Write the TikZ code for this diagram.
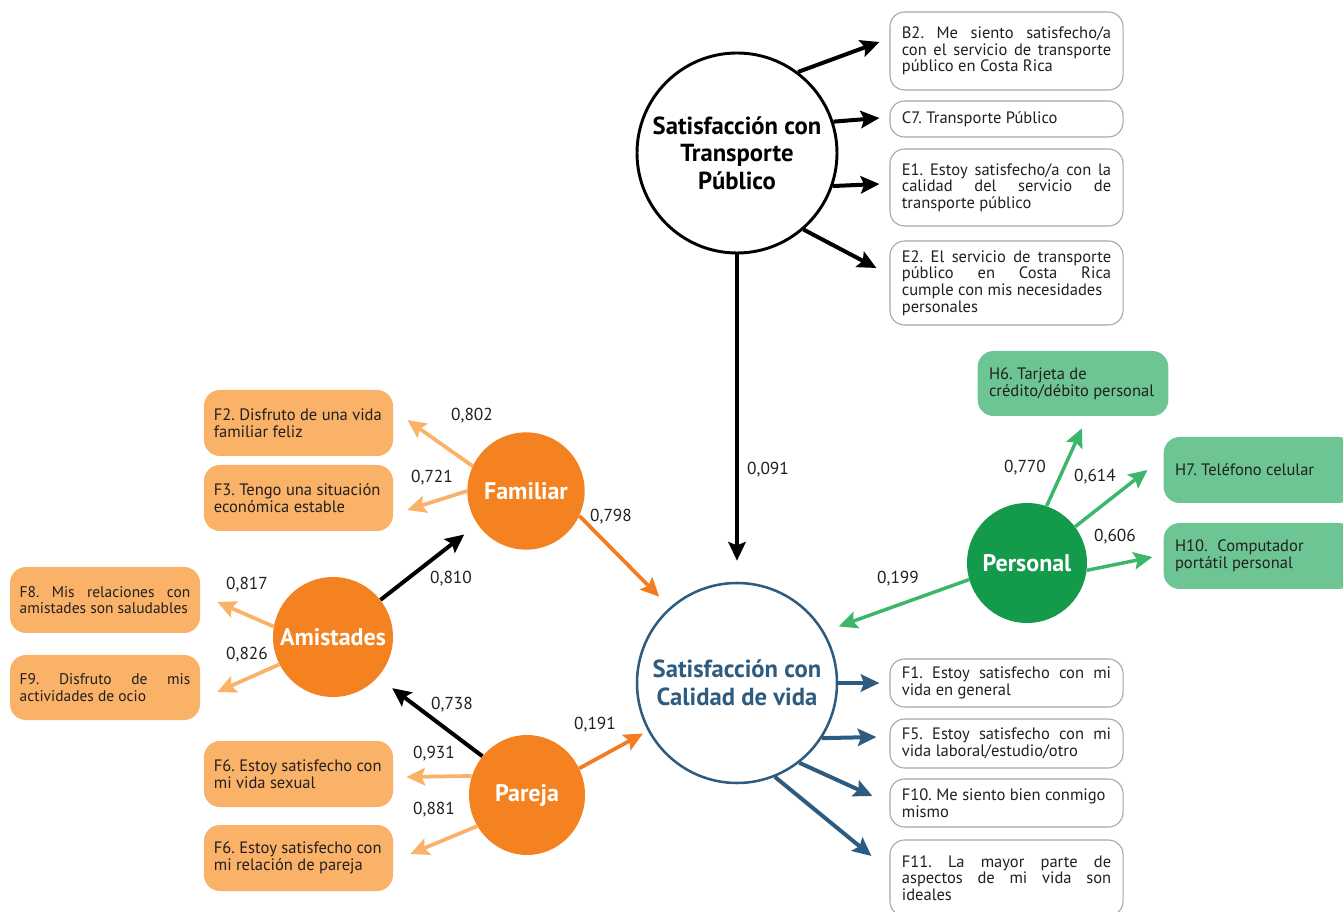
\documentclass[tikz,border=0pt]{standalone}
\usepackage{fontspec}
\setmainfont{PT Sans}
\usetikzlibrary{arrows.meta,calc,shapes.geometric}
\definecolor{orc}{HTML}{F58220}
\definecolor{orarr}{HTML}{F47B20}
\definecolor{orl}{HTML}{FAB168}
\definecolor{bluec}{HTML}{2D5C80}
\definecolor{greenc}{HTML}{139A4B}
\definecolor{greenarr}{HTML}{3BB66B}
\definecolor{greenbox}{HTML}{6CC592}
\definecolor{boxgray}{HTML}{A6A6A6}
\definecolor{txt}{HTML}{231F20}
\newcommand{\boxfont}[1]{\fontsize{#1}{12.5}\selectfont\frenchspacing\hyphenpenalty=10000\relax\tolerance=9999\relax}
\begin{document}
\begin{tikzpicture}[x=0.75pt,y=-0.75pt,
  tipA/.tip={Stealth[length=14pt,width=13pt,inset=2.5pt]},
  barr/.style={draw=black,line width=3pt,-tipA},
  bluearr/.style={draw=bluec,line width=3pt,-tipA},
  garr/.style={draw=greenarr,line width=2.6pt,-tipA},
  larr/.style={draw=orl,line width=2.8pt,-tipA},
  oarr/.style={draw=orarr,line width=2.8pt,-tipA},
  boxtxt/.style={align=justify,text=txt,inner ysep=0pt,font=\boxfont{12.4}},
  gbox/.style={boxtxt,draw=boxgray,line width=0.8pt,rounded corners=11pt,fill=white,
    text width=157pt,inner xsep=8.9pt},
  obox/.style={boxtxt,fill=orl,rounded corners=12pt,text width=127pt,inner xsep=7.4pt},
  hbox/.style={boxtxt,fill=greenbox,rounded corners=12pt,text width=126pt,inner xsep=8.5pt},
  bigc/.style={circle,minimum size=150pt,inner sep=0pt,line width=2.2pt,fill=white,align=center,
    font=\fontsize{18.5}{20.6}\selectfont\bfseries},
  smc/.style={circle,minimum size=88pt,inner sep=0pt,text=white,align=center,
    font=\fontsize{18}{20}\selectfont\bfseries},
  lab/.style={text=txt,inner sep=1pt,font=\fontsize{13}{15}\selectfont}
]
\useasboundingbox (0,0) rectangle (1343,912);

% main circles
\node[bigc,draw=black,text=black] (tp) at (737,153) {Satisfacción con\\Transporte\\Público};
\node[bigc,draw=bluec,text=bluec,line width=1.9pt] (cq) at (737,683) {Satisfacción con\\Calidad de vida};

% small circles
\node[smc,fill=orc] (fam) at (526,491) {Familiar};
\node[smc,fill=orc,minimum size=90pt] (am) at (333,637) {Amistades};
\node[smc,fill=orc,ellipse,minimum width=87pt,minimum height=90pt] (pa) at (527,795) {Pareja};
\node[smc,fill=greenc,minimum size=90pt] (pe) at (1027,563) {Personal};

% gray boxes
\node[gbox,minimum height=58.5pt] (b2) at (1006.5,51) {B2. Me siento satisfecho/a\linebreak con el servicio de transporte\linebreak público en Costa Rica};
\node[gbox,minimum height=27pt] (c7) at (1006.5,119) {C7. Transporte Público};
\node[gbox,minimum height=57.75pt] (e1) at (1006.5,187.5) {E1. Estoy satisfecho/a con la\linebreak calidad del servicio de\linebreak transporte público};
\node[gbox,minimum height=63pt] (e2) at (1006.5,283) {E2. El servicio de transporte\linebreak público en Costa Rica\linebreak cumple con mis necesidades\\personales};
\node[gbox,minimum height=36pt] (f1) at (1006.5,683) {F1. Estoy satisfecho con mi\linebreak vida en general};
\node[gbox,minimum height=36.75pt] (f5) at (1006.5,743.5) {F5. Estoy satisfecho con mi\linebreak vida laboral/estudio/otro};
\node[gbox,minimum height=36pt] (f10) at (1006.5,803) {F10. Me siento bien conmigo\\mismo};
\node[gbox,minimum height=57pt] (f11) at (1006.5,878) {F11. La mayor parte de\linebreak aspectos de mi vida son\linebreak ideales};

% orange boxes
\node[obox,minimum height=49.5pt] (f2) at (298.5,423) {F2. Disfruto de una vida\\familiar feliz};
\node[obox,minimum height=49.5pt] (f3) at (298.5,498) {F3. Tengo una situación\\económica estable};
\node[obox,minimum height=49.5pt,text width=128pt,inner xsep=7.25pt,font=\boxfont{11.6}] (f8) at (105,600) {F8. Mis relaciones con\linebreak amistades son saludables};
\node[obox,minimum height=48.75pt,text width=128pt,inner xsep=7.25pt,font=\boxfont{11.6}] (f9) at (105,687.5) {F9. Disfruto de mis\linebreak actividades de ocio};
\node[obox,minimum height=49.5pt] (f6a) at (298.5,774) {F6. Estoy satisfecho con\\mi vida sexual};
\node[obox,minimum height=49.5pt] (f6b) at (298.5,858) {F6. Estoy satisfecho con\\mi relación de pareja};

% green boxes
\node[hbox,minimum height=48.75pt] (h6) at (1073,383.5) {H6. Tarjeta de\\crédito/débito personal};
\node[hbox,minimum height=49.5pt] (h7) at (1259,470) {H7. Teléfono celular};
\node[hbox,minimum height=49.5pt] (h10) at (1259,556) {H10.\hspace{4pt} Computador\\portátil personal};

% transport arrows
\draw[barr] (tp.53) -- ($(b2.west)+(-10,-9)$);
\draw[barr] (tp.18) -- ($(c7.west)+(-10,-1)$);
\draw[barr] (tp.-19) -- ($(e1.west)+(-10,-3.5)$);
\draw[barr] (tp.-49) -- ($(e2.west)+(-13,-15)$);
\draw[barr] (tp.south) -- ($(cq.north)+(0,-21)$);

% calidad arrows
\draw[bluearr] (cq.east) -- ($(f1.west)+(-10,0)$);
\draw[bluearr] (cq.-33) -- ($(f5.west)+(-13,-6.5)$);
\draw[bluearr] (cq.-52) -- ($(f10.west)+(-17,-7)$);
\draw[bluearr] (cq.-68) -- ($(f11.west)+(-18,-22)$);

% personal arrows
\draw[garr] (pe.71) -- ($(h6.south)+(9,12)$);
\draw[garr] (pe.37) -- ($(h7.west)+(-16,0)$);
\draw[garr] (pe.-7) -- ($(h10.west)+(-11,1)$);
\draw[garr] (pe.196) -- ($(cq.30)+(14,-6)$);

% orange arrows
\draw[larr] (fam.155) -- ($(f2.east)+(14,-3)$);
\draw[larr] (fam.180) -- ($(f3.east)+(14,12)$);
\draw[oarr] (fam.-25) -- ($(cq.132)+(-10,-11)$);
\draw[larr] (am.170) -- ($(f8.east)+(17,2)$);
\draw[larr] (am.207) -- ($(f9.east)+(17,4.5)$);
\draw[barr] (am.38) -- ($(fam.215)+(-13.5,9.7)$);
\draw[barr] (pa.139) -- ($(am.-41)+(13.7,11.6)$);
\draw[larr] (pa.161) -- ($(f6a.east)+(13,3)$);
\draw[larr] (pa.212) -- ($(f6b.east)+(17,-4)$);
\draw[oarr] (pa.27) -- ($(cq.208)+(-4.7,3)$);

% labels
\node[lab] (l091) at (768,470) {0,091};
\node[lab] (l802) at (472,416) {0,802};
\node[lab] (l721) at (432,478) {0,721};
\node[lab] (l798) at (611,517) {0,798};
\node[lab] (l817) at (247,585) {0,817};
\node[lab] (l826) at (247,655) {0,826};
\node[lab] (l810) at (451,579) {0,810};
\node[lab] (l738) at (452,705) {0,738};
\node[lab] (l931) at (434,754) {0,931};
\node[lab] (l881) at (434,810) {0,881};
\node[lab] (l191) at (595,725) {0,191};
\node[lab] (l770) at (1025,468) {0,770};
\node[lab] (l614) at (1095,477) {0,614};
\node[lab] (l606) at (1115,537) {0,606};
\node[lab] (l199) at (898,579) {0,199};
\end{tikzpicture}
\end{document}
